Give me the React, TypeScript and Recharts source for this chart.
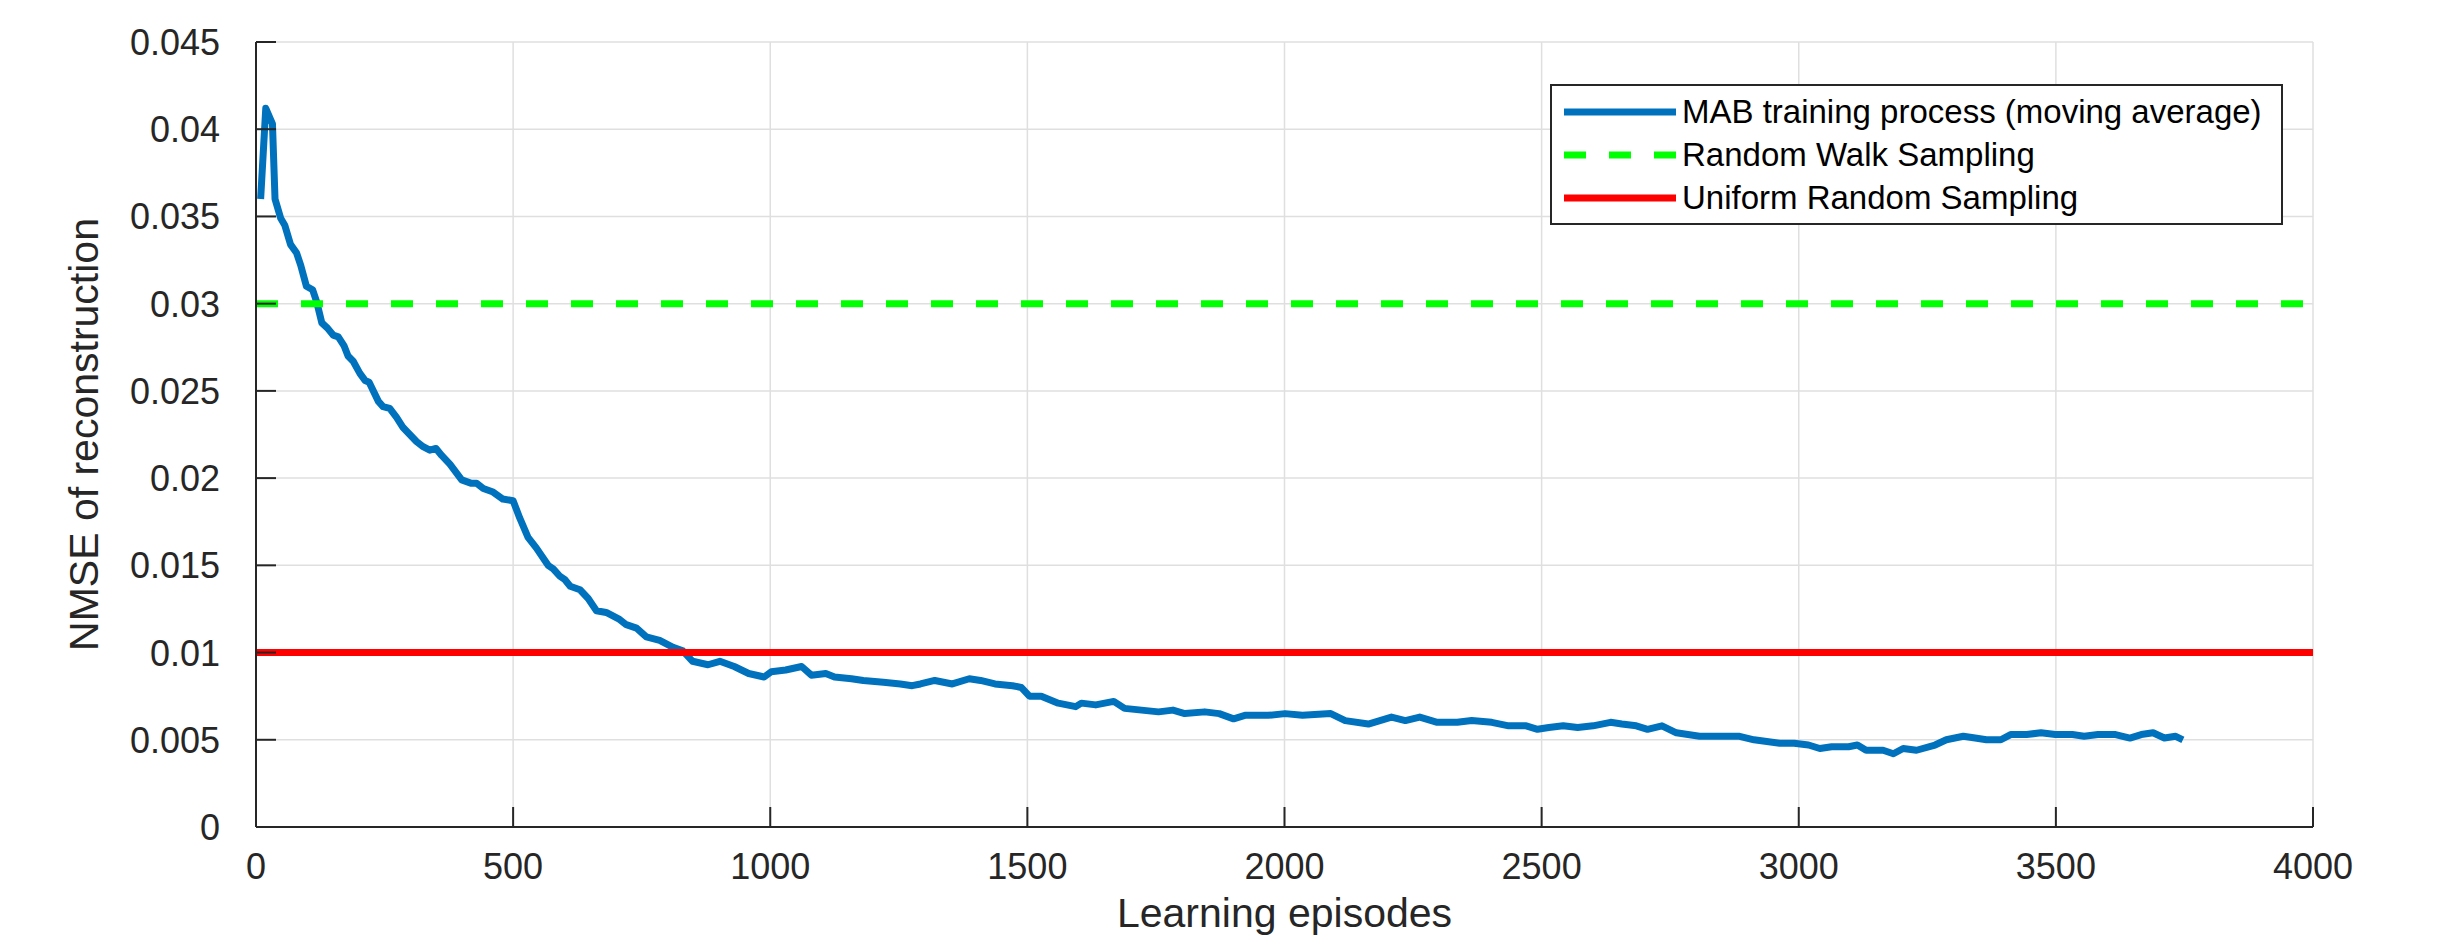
import React from "react";
import { LineChart, Line, XAxis, YAxis, CartesianGrid, Legend } from "recharts";

// episode index (x) and moving-average NMSE (y)
const episodes = [
  9, 19, 32, 37, 48, 56, 67, 79, 87, 98, 110, 118, 128, 139, 150, 160, 171, 179, 189, 202,
  212, 220, 238, 247, 260, 273, 286, 299, 312, 325, 338, 350, 361, 377, 400, 419, 429, 442, 461, 480,
  500, 513, 529, 545, 568, 578, 590, 600, 611, 630, 646, 662, 681, 707, 720, 740, 759, 785, 811, 830,
  849, 879, 902, 930, 958, 988, 1002, 1030, 1061, 1080, 1108, 1125, 1158, 1181, 1220, 1253, 1276, 1292, 1320, 1354,
  1387, 1409, 1437, 1471, 1488, 1504, 1527, 1560, 1594, 1605, 1633, 1668, 1689, 1722, 1755, 1783, 1806, 1845, 1873, 1901,
  1923, 1968, 2001, 2035, 2090, 2118, 2163, 2208, 2235, 2263, 2297, 2336, 2364, 2403, 2436, 2470, 2492, 2514, 2542, 2570,
  2600, 2634, 2656, 2684, 2706, 2734, 2762, 2807, 2840, 2885, 2913, 2963, 2991, 3019, 3041, 3064, 3097, 3114, 3131, 3164,
  3184, 3203, 3229, 3265, 3287, 3320, 3343, 3365, 3393, 3412, 3443, 3471, 3499, 3532, 3555, 3582, 3616, 3644, 3666, 3689,
  3711, 3733, 3747,
];

const nmse = [
  0.036, 0.0412, 0.0403, 0.036, 0.0349, 0.0345, 0.0334, 0.0329, 0.0322, 0.031, 0.0308, 0.0301, 0.0289, 0.0286, 0.0282, 0.0281, 0.0276, 0.027, 0.0267, 0.026,
  0.0256, 0.0255, 0.0244, 0.0241, 0.024, 0.0235, 0.0229, 0.0225, 0.0221, 0.0218, 0.0216, 0.0217, 0.0213, 0.0208, 0.0199, 0.0197, 0.0197, 0.0194, 0.0192, 0.0188,
  0.0187, 0.0177, 0.0166, 0.016, 0.015, 0.0148, 0.0144, 0.0142, 0.0138, 0.0136, 0.0131, 0.0124, 0.0123, 0.0119, 0.0116, 0.0114, 0.0109, 0.0107, 0.0103, 0.0101,
  0.0095, 0.0093, 0.0095, 0.0092, 0.0088, 0.0086, 0.0089, 0.009, 0.0092, 0.0087, 0.0088, 0.0086, 0.0085, 0.0084, 0.0083, 0.0082, 0.0081, 0.0082, 0.0084, 0.0082,
  0.0085, 0.0084, 0.0082, 0.0081, 0.008, 0.0075, 0.0075, 0.0071, 0.0069, 0.0071, 0.007, 0.0072, 0.0068, 0.0067, 0.0066, 0.0067, 0.0065, 0.0066, 0.0065, 0.0062,
  0.0064, 0.0064, 0.0065, 0.0064, 0.0065, 0.0061, 0.0059, 0.0063, 0.0061, 0.0063, 0.006, 0.006, 0.0061, 0.006, 0.0058, 0.0058, 0.0056, 0.0057, 0.0058, 0.0057,
  0.0058, 0.006, 0.0059, 0.0058, 0.0056, 0.0058, 0.0054, 0.0052, 0.0052, 0.0052, 0.005, 0.0048, 0.0048, 0.0047, 0.0045, 0.0046, 0.0046, 0.0047, 0.0044, 0.0044,
  0.0042, 0.0045, 0.0044, 0.0047, 0.005, 0.0052, 0.0051, 0.005, 0.005, 0.0053, 0.0053, 0.0054, 0.0053, 0.0053, 0.0052, 0.0053, 0.0053, 0.0051, 0.0053, 0.0054,
  0.0051, 0.0052, 0.005,
];

const randomWalkLevel = 0.03;
const uniformLevel = 0.01;

const xTicks = [0, 500, 1000, 1500, 2000, 2500, 3000, 3500, 4000];
const yTicks = [0, 0.005, 0.01, 0.015, 0.02, 0.025, 0.03, 0.035, 0.04, 0.045];
const xDomain = [0, 4000];
const yDomain = [0, 0.045];

const mabData = episodes.map((ep, i) => ({ ep, nmse: nmse[i] }));
const walkData = [
  { ep: xDomain[0], nmse: randomWalkLevel },
  { ep: xDomain[1], nmse: randomWalkLevel },
];
const uniformData = [
  { ep: xDomain[0], nmse: uniformLevel },
  { ep: xDomain[1], nmse: uniformLevel },
];

const FONT = "'Liberation Sans', Arial, Helvetica, sans-serif";
const AXIS = "#262626";
const TICK_LEN = 20;
const TICK_FONT = 36;
const TITLE_FONT = 41;
const X_MARGIN = 6;
const Y_MARGIN = 36;

const BottomTick = (props: any) => {
  const { x, y, payload } = props;
  const axisY = y - X_MARGIN;
  return (
    <g>
      <line x1={x} x2={x} y1={axisY} y2={axisY - TICK_LEN} stroke={AXIS} strokeWidth={2} />
      <text x={x} y={axisY + 39} dy={TICK_FONT * 0.36} textAnchor="middle" fontSize={TICK_FONT} fontFamily={FONT} fill={AXIS}>
        {payload.value}
      </text>
    </g>
  );
};

const LeftTick = (props: any) => {
  const { x, y, payload } = props;
  const axisX = x + Y_MARGIN;
  return (
    <g>
      <line x1={axisX} x2={axisX + TICK_LEN} y1={y} y2={y} stroke={AXIS} strokeWidth={2} />
      <text x={x} y={y} dy={TICK_FONT * 0.36} textAnchor="end" fontSize={TICK_FONT} fontFamily={FONT} fill={AXIS}>
        {payload.value}
      </text>
    </g>
  );
};

const TopTick = (props: any) => {
  const { x, y } = props;
  return <line x1={x} x2={x} y1={y} y2={y + TICK_LEN} stroke={AXIS} strokeWidth={2} />;
};

const RightTick = (props: any) => {
  const { x, y } = props;
  return <line x1={x} x2={x - TICK_LEN} y1={y} y2={y} stroke={AXIS} strokeWidth={2} />;
};

const LegendBox = (props: any) => {
  const { payload } = props;
  return (
    <div
      style={{
        border: `2px solid ${AXIS}`,
        background: "#fff",
        padding: "4px 10px 4px 12px",
        fontFamily: FONT,
        fontSize: 33,
        color: "#000",
        boxSizing: "border-box",
      }}
    >
      {(payload || []).map((entry: any) => (
        <div key={entry.value} style={{ display: "flex", alignItems: "center", height: 43 }}>
          <svg width={112} height={14} style={{ flex: "none" }}>
            <line
              x1={0}
              x2={112}
              y1={7}
              y2={7}
              stroke={entry.color}
              strokeWidth={7}
              strokeDasharray={entry.payload?.strokeDasharray}
            />
          </svg>
          <span style={{ marginLeft: 6, whiteSpace: "nowrap" }}>{entry.value}</span>
        </div>
      ))}
    </div>
  );
};

export default function App() {
  return (
    <div style={{ position: "absolute", left: 0, top: 0, background: "#fff" }}>
      <LineChart width={2447} height={942} margin={{ top: 42, right: 134, bottom: 0, left: 0 }}>
        <CartesianGrid stroke="#dfdfdf" strokeWidth={1.5} />
        <XAxis
          dataKey="ep"
          type="number"
          domain={xDomain}
          ticks={xTicks}
          interval={0}
          allowDataOverflow
          height={115}
          tickSize={0}
          tickMargin={X_MARGIN}
          tickLine={false}
          tick={<BottomTick />}
          axisLine={{ stroke: AXIS, strokeWidth: 2 }}
          label={({ viewBox }: any) => (
            <text
              x={viewBox.x + viewBox.width / 2}
              y={viewBox.y + 86}
              textAnchor="middle"
              dominantBaseline="central"
              fontSize={TITLE_FONT}
              fontFamily={FONT}
              fill={AXIS}
            >
              Learning episodes
            </text>
          )}
        />
        <XAxis
          xAxisId="top"
          orientation="top"
          dataKey="ep"
          type="number"
          domain={xDomain}
          ticks={xTicks}
          interval={0}
          allowDataOverflow
          height={0}
          tickSize={0}
          tickMargin={0}
          tickLine={false}
          tick={<TopTick />}
          axisLine={{ stroke: AXIS, strokeWidth: 2 }}
        />
        <YAxis
          type="number"
          domain={yDomain}
          ticks={yTicks}
          interval={0}
          allowDataOverflow
          width={256}
          tickSize={0}
          tickMargin={Y_MARGIN}
          tickLine={false}
          tick={<LeftTick />}
          axisLine={{ stroke: AXIS, strokeWidth: 2 }}
          label={({ viewBox }: any) => {
            const cx = viewBox.x + 84;
            const cy = viewBox.y + viewBox.height / 2;
            return (
              <text
                x={cx}
                y={cy}
                transform={`rotate(-90 ${cx} ${cy})`}
                textAnchor="middle"
                dominantBaseline="central"
                fontSize={TITLE_FONT}
                fontFamily={FONT}
                fill={AXIS}
              >
                NMSE of reconstruction
              </text>
            );
          }}
        />
        <YAxis
          yAxisId="right"
          orientation="right"
          type="number"
          domain={yDomain}
          ticks={yTicks}
          interval={0}
          allowDataOverflow
          width={0}
          tickSize={0}
          tickMargin={0}
          tickLine={false}
          tick={<RightTick />}
          axisLine={{ stroke: AXIS, strokeWidth: 2 }}
        />
        <Legend
          layout="vertical"
          align="center"
          verticalAlign="middle"
          content={<LegendBox />}
          wrapperStyle={{ left: 1550, top: 84, width: 733, height: "auto" }}
        />
        <Line
          data={mabData}
          dataKey="nmse"
          name="MAB training process (moving average)"
          type="linear"
          stroke="#0072BD"
          strokeWidth={7}
          strokeLinejoin="round"
          dot={false}
          activeDot={false}
          isAnimationActive={false}
        />
        <Line
          data={walkData}
          dataKey="nmse"
          name="Random Walk Sampling"
          type="linear"
          stroke="#00FF00"
          strokeWidth={7}
          strokeDasharray="22 23"
          dot={false}
          activeDot={false}
          isAnimationActive={false}
        />
        <Line
          data={uniformData}
          dataKey="nmse"
          name="Uniform Random Sampling"
          type="linear"
          stroke="#FF0000"
          strokeWidth={7}
          dot={false}
          activeDot={false}
          isAnimationActive={false}
        />
      </LineChart>
    </div>
  );
}
